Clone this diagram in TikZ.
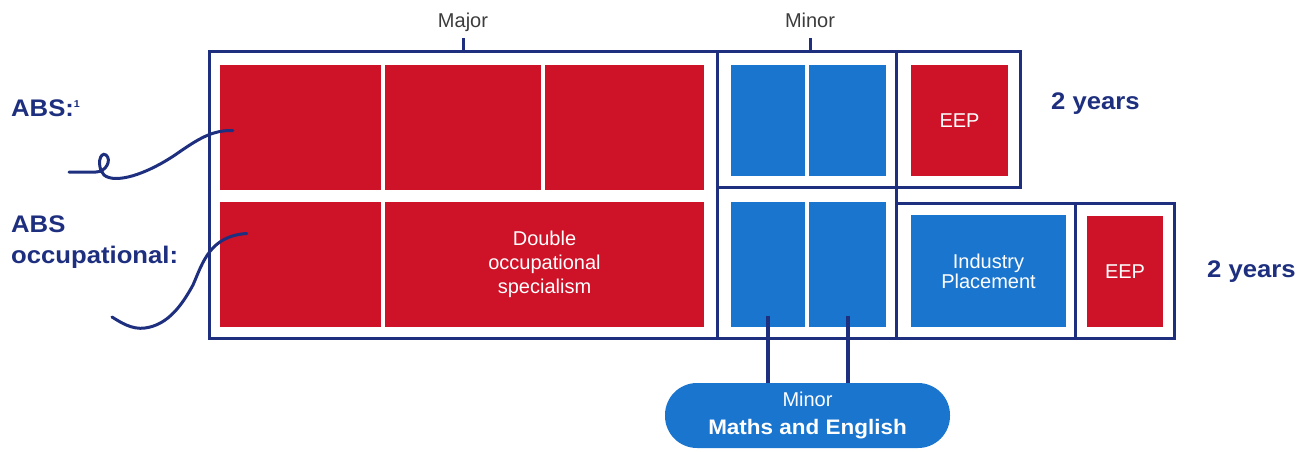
\documentclass[tikz,border=0pt]{standalone}
\usepackage{fontspec}
\setmainfont{Liberation Sans}
\newfontfamily\widebold[FakeStretch=1.07]{Liberation Sans Bold}
\usetikzlibrary{calc}

\definecolor{absred}{HTML}{CE1228}
\definecolor{absblue}{HTML}{1A75CF}
\definecolor{absnavy}{HTML}{1D2F7E}
\definecolor{absgrey}{HTML}{3C3C3C}

\begin{document}
\begin{tikzpicture}[x=1pt,y=-1pt,
    frame/.style={draw=absnavy,line width=3pt,inner sep=0pt},
    redblock/.style={fill=absred,inner sep=0pt,text=white,align=center,font=\fontsize{20}{24}\selectfont},
    blueblock/.style={fill=absblue,inner sep=0pt,text=white,align=center,font=\fontsize{20}{20}\selectfont},
    toplabel/.style={text=absgrey,font=\fontsize{20}{24}\selectfont},
    rowlabel/.style={text=absnavy,anchor=west,align=left,inner sep=0pt,font=\fontsize{24}{31}\widebold},
    squiggle/.style={draw=absnavy,line width=3pt,line cap=round},
    link/.style={draw=absnavy,line width=4pt}]
                \useasboundingbox (0,0) rectangle (1312,452);

                % frames
                \node[frame,minimum width=508pt,minimum height=286pt] (majorbox) at (463,195) {};
                \node[frame,minimum width=179pt,minimum height=135pt] (minortop) at (806.5,119.5) {};
                \node[frame,minimum width=124pt,minimum height=135pt] (eeptop) at (958,119.5) {};
                \node[frame,minimum width=179pt,minimum height=151pt] (minorbot) at (806.5,262.5) {};
                \node[frame,minimum width=179pt,minimum height=135pt] (indbox) at (985.5,270.5) {};
                \node[frame,minimum width=99pt,minimum height=135pt] (eepbot) at (1124.5,270.5) {};

                % blocks
                \node[redblock,minimum width=161pt,minimum height=125pt] (abs1) at (300.5,127.5) {};
                \node[redblock,minimum width=156pt,minimum height=125pt] (abs2) at (463,127.5) {};
                \node[redblock,minimum width=159pt,minimum height=125pt] (abs3) at (624.5,127.5) {};
                \node[redblock,minimum width=161pt,minimum height=125pt] (occ1) at (300.5,264.5) {};
                \node[redblock,minimum width=319pt,minimum height=125pt] (occ2) at (544.5,264.5) {Double\\occupational\\specialism};
                \node[blueblock,minimum width=74pt,minimum height=111pt] (mintop1) at (768,120.5) {};
                \node[blueblock,minimum width=77pt,minimum height=111pt] (mintop2) at (847.5,120.5) {};
                \node[blueblock,minimum width=74pt,minimum height=125pt] (minbot1) at (768,264.5) {};
                \node[blueblock,minimum width=77pt,minimum height=125pt] (minbot2) at (847.5,264.5) {};
                \node[redblock,minimum width=97pt,minimum height=111pt] (eep1) at (959.5,120.5) {EEP};
                \node[blueblock,minimum width=155pt,minimum height=112pt] (industry) at (988.5,271) {Industry\\Placement};
                \node[redblock,minimum width=76pt,minimum height=111pt] (eep2) at (1125,271.5) {EEP};

                % labels
                \node[toplabel,text height=14pt,text depth=4pt] (majorlbl) at (463,23) {Major};
                \node[toplabel,text height=14pt,text depth=4pt] (minorlbl) at (810,23) {Minor};
                \node[rowlabel] (abslbl) at (11,108) {ABS:\textsuperscript{\fontsize{10}{10}\selectfont 1}};
                \node[rowlabel] (occlbl) at (11,242) {ABS\\occupational:};
                \node[rowlabel] (years1) at (1051,104) {2 years};
                \node[rowlabel] (years2) at (1207,272) {2 years};
                \node[fill=absblue,rounded corners=32pt,minimum width=285pt,minimum height=65pt,text=white,align=center,
                    font=\fontsize{20}{28}\selectfont] (pill) at (807.5,415.5)
                    {Minor\\{\fontsize{21}{28}\widebold Maths and English}};

                \coordinate (absstart) at (69,172);
                \coordinate (occstart) at (112,317);

                \draw[absnavy,line width=3pt] (majorbox.north) -- ++(0,-12);
                \draw[absnavy,line width=3pt] (minorlbl.south |- minortop.north) -- ++(0,-12);
                \draw[link] ([yshift=11pt]minbot1.south) -- (minbot1.south |- pill.north);
                \draw[link] ([yshift=11pt]minbot2.south) -- (minbot2.south |- pill.north);
                \draw[squiggle] (absstart) -- (96,172) .. controls (106,172) and (112,160) .. (106,155)
                    .. controls (100,151) and (96,166) .. (104,175) .. controls (115,184) and (145,175) .. (175,155)
                    .. controls (198,139) and (212,130) .. ([xshift=13pt,yshift=-3pt]abs1.west);
                \draw[squiggle] (occstart) .. controls (120,322) and (132,330) .. (145,328)
                    .. controls (168,325) and (182,305) .. (193,285)
                    .. controls (203,262) and (210,236) .. ([xshift=27pt,yshift=31pt]occ1.west);
            \end{tikzpicture}
\end{document}
